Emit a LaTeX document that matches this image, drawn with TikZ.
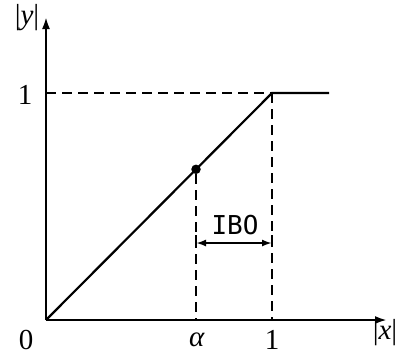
\documentclass[tikz,border=0pt]{standalone}
\usepackage{fontspec}
\setmainfont{Liberation Serif}
\newfontfamily\ibofont{DejaVu Sans Mono}
\usetikzlibrary{arrows.meta}
\tikzset{
  axis/.style={line width=2.2pt,-{Latex[length=12pt,width=8pt]}},
  curve/.style={line width=2.2pt},
  guide/.style={line width=2.2pt,dash pattern=on 10pt off 6pt},
  lbl/.style={inner sep=0pt,font=\fontsize{29}{31}\selectfont},
  dim/.style={line width=2.2pt,{Latex[length=10pt,width=7pt]}-{Latex[length=10pt,width=7pt]}}
}
\begin{document}
\begin{tikzpicture}[x=1pt,y=-1pt]
\useasboundingbox (0,0) rectangle (398,360);
\coordinate (O) at (46,320);
\coordinate (Ytip) at (46,17);
\coordinate (Xtip) at (387,320);
\coordinate (S) at (272,93);
\coordinate (Send) at (329,93);
\coordinate (Y1) at (46,93);
\coordinate (X1) at (272,320);
\coordinate (Xa) at (196,320);
\coordinate (A1) at (196,243);
\coordinate (A2) at (272,243);
\coordinate (T1) at (196,235);
\coordinate (T2) at (272,235);
\draw[axis] (O) -- (Xtip);
\draw[axis] (O) -- (Ytip);
\draw[guide] (Y1) -- (S);
\draw[guide] (S) -- (X1);
\draw[curve] (O) -- (S) -- (Send);
\node[circle,fill=black,inner sep=0pt,minimum size=9.5pt] (P) at (196,169.3) {};
\draw[guide] (P) -- (Xa);
\draw[dim] (A1) -- (A2);
\draw[line width=2.2pt] (T1) -- (A1);
\draw[line width=2.2pt] (T2) -- (A2);
\node[inner sep=0pt,font=\ibofont\fontsize{26}{28}\selectfont] (ibo) at (235,225) {IBO};
\node[lbl] (ly) at (27,18) {|\textit{y}|};
\node[lbl] (lx) at (385,333) {|\textit{x}|};
\node[lbl] (l1y) at (25,95) {1};
\node[lbl] (l0) at (26,340) {0};
\node[lbl] (la) at (197,340) {\textit{α}};
\node[lbl] (l1x) at (272,340) {1};
\end{tikzpicture}
\end{document}
